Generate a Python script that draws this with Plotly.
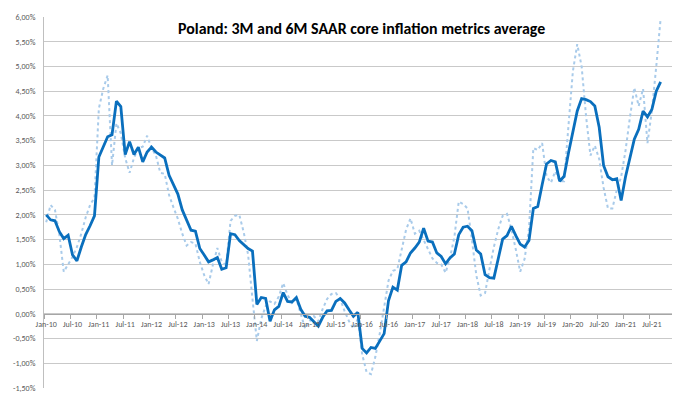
import plotly.graph_objects as go

# Month index 0 = Jan-10 ... 140 = Sep-21
months = list(range(141))

# 6M SAAR average (solid)
core_6m = [
    2.00, 1.90, 1.88, 1.66, 1.52, 1.59, 1.19, 1.07, 1.35, 1.60, 1.78, 1.98,
    3.17, 3.37, 3.58, 3.62, 4.30, 4.19, 3.22, 3.48, 3.22, 3.37, 3.07, 3.27,
    3.37, 3.27, 3.21, 3.15, 2.80, 2.61, 2.42, 2.10, 1.90, 1.69, 1.67, 1.32,
    1.19, 1.05, 1.09, 1.14, 0.90, 0.93, 1.62, 1.60, 1.48, 1.39, 1.32, 1.27,
    0.19, 0.33, 0.31, -0.15, 0.08, 0.15, 0.43, 0.25, 0.24, 0.33, 0.09, -0.05,
    -0.07, -0.16, -0.25, -0.07, 0.06, 0.07, 0.25, 0.31, 0.22, 0.08, -0.05, 0.03,
    -0.70, -0.79, -0.68, -0.70, -0.56, -0.40, 0.27, 0.54, 0.48, 0.98, 1.05, 1.23,
    1.33, 1.45, 1.73, 1.47, 1.45, 1.23, 1.16, 1.01, 1.13, 1.21, 1.60, 1.75,
    1.77, 1.68, 1.29, 1.21, 0.79, 0.73, 0.72, 1.15, 1.51, 1.58, 1.77, 1.58,
    1.41, 1.35, 1.48, 2.13, 2.17, 2.61, 3.03, 3.10, 3.07, 2.68, 2.78, 3.25,
    3.65, 4.10, 4.35, 4.33, 4.29, 4.20, 3.77, 3.00, 2.77, 2.71, 2.73, 2.29,
    2.77, 3.17, 3.53, 3.73, 4.10, 3.98, 4.13, 4.50, 4.69,
]

# 3M SAAR average (dotted)
core_3m = [
    1.85, 2.20, 2.10, 1.60, 0.85, 1.00, 1.15, 1.35, 1.62, 1.95, 2.20, 2.35,
    4.15, 4.55, 4.82, 3.00, 3.85, 3.65, 3.15, 2.85, 3.15, 3.35, 3.38, 3.60,
    3.35, 3.20, 2.85, 2.83, 2.40, 2.15, 1.92, 1.62, 1.38, 1.45, 1.42, 1.05,
    0.78, 0.60, 1.00, 1.33, 1.05, 0.98, 1.88, 1.98, 2.00, 1.65, 1.20, 0.30,
    -0.55, -0.10, 0.15, 0.25, 0.20, 0.35, 0.62, 0.38, 0.22, 0.30, 0.02, -0.30,
    -0.15, -0.05, -0.15, 0.10, 0.30, 0.40, 0.42, 0.30, 0.05, -0.15, -0.30, -0.10,
    -0.82, -1.18, -1.22, -0.87, -0.40, 0.13, 0.67, 0.87, 0.90, 1.30, 1.70, 1.93,
    1.62, 1.68, 1.50, 1.30, 1.12, 1.03, 1.00, 0.83, 1.13, 1.55, 2.27, 2.22,
    2.13, 1.50, 0.78, 0.37, 0.42, 0.90, 1.35, 1.71, 1.98, 2.02, 1.71, 1.30,
    0.85, 1.11, 1.71, 3.35, 3.31, 3.45, 2.78, 2.65, 2.88, 2.68, 2.68, 3.80,
    4.90, 5.45, 5.00, 4.00, 3.20, 3.40, 3.13, 2.55, 2.13, 2.13, 2.50, 2.77,
    3.30, 3.97, 4.57, 4.20, 4.55, 3.45, 4.10, 5.00, 5.97,
]

years = list(range(10, 22))
x_tick_vals = [6 * k for k in range(24)]
x_tick_text = [f"{m}-{y:02d}" for y in years for m in ("Jan", "Jul")]

y_tick_vals = [-1.5 + 0.5 * k for k in range(16)]
y_tick_text = [f"{v:.2f}%".replace(".", ",") for v in y_tick_vals]

title_text = "Poland: 3M and 6M SAAR core inflation metrics average"

FONT = "Carlito, Calibri, Lato, 'Liberation Sans', sans-serif"

fig = go.Figure()
fig.add_trace(go.Scatter(
    x=months, y=core_3m, mode="lines", name="3M SAAR",
    line=dict(color="#a9cbea", width=2, dash="dot"),
))
fig.add_trace(go.Scatter(
    x=months, y=core_6m, mode="lines", name="6M SAAR",
    line=dict(color="#0a6fbd", width=2.8),
))

# The page body adds an 8px margin, so the figure is sized to fill the rest.
fig.update_layout(
    width=672, height=389,
    margin=dict(l=36, r=4, t=7, b=6),
    paper_bgcolor="white", plot_bgcolor="white",
    showlegend=False,
    font=dict(family=FONT, color="#595959"),
    annotations=[dict(
        text=f"<b>{title_text}</b>", xref="paper", yref="paper",
        x=0.502, y=0.968, xanchor="center", yanchor="middle",
        showarrow=False, font=dict(family=FONT, size=15.9, color="#000000"),
    )],
)

fig.update_xaxes(
    range=[-0.5, 143.5], anchor="free", position=0.2,
    tickmode="array", tickvals=x_tick_vals, ticktext=x_tick_text,
    ticks="outside", ticklen=3, tickcolor="rgba(0,0,0,0)",
    tickfont=dict(size=8, color="#595959"),
    showline=True, linecolor="#a6a6a6", linewidth=1,
    showgrid=False, zeroline=False,
    minor=dict(tickmode="array", tickvals=[-0.5 + 6 * k for k in range(25)],
               ticks="outside", ticklen=4, tickcolor="#a6a6a6", showgrid=False),
)
fig.update_yaxes(
    range=[-1.5, 6.0],
    tickmode="array", tickvals=y_tick_vals, ticktext=y_tick_text,
    tickfont=dict(size=8, color="#595959"),
    ticks="outside", ticklen=6, tickcolor="rgba(0,0,0,0)",
    showline=True, linecolor="#bfbfbf", linewidth=1,
    showgrid=True, gridcolor="#c9c9c9", gridwidth=1,
    zeroline=False,
)

fig.write_html("out.html")
